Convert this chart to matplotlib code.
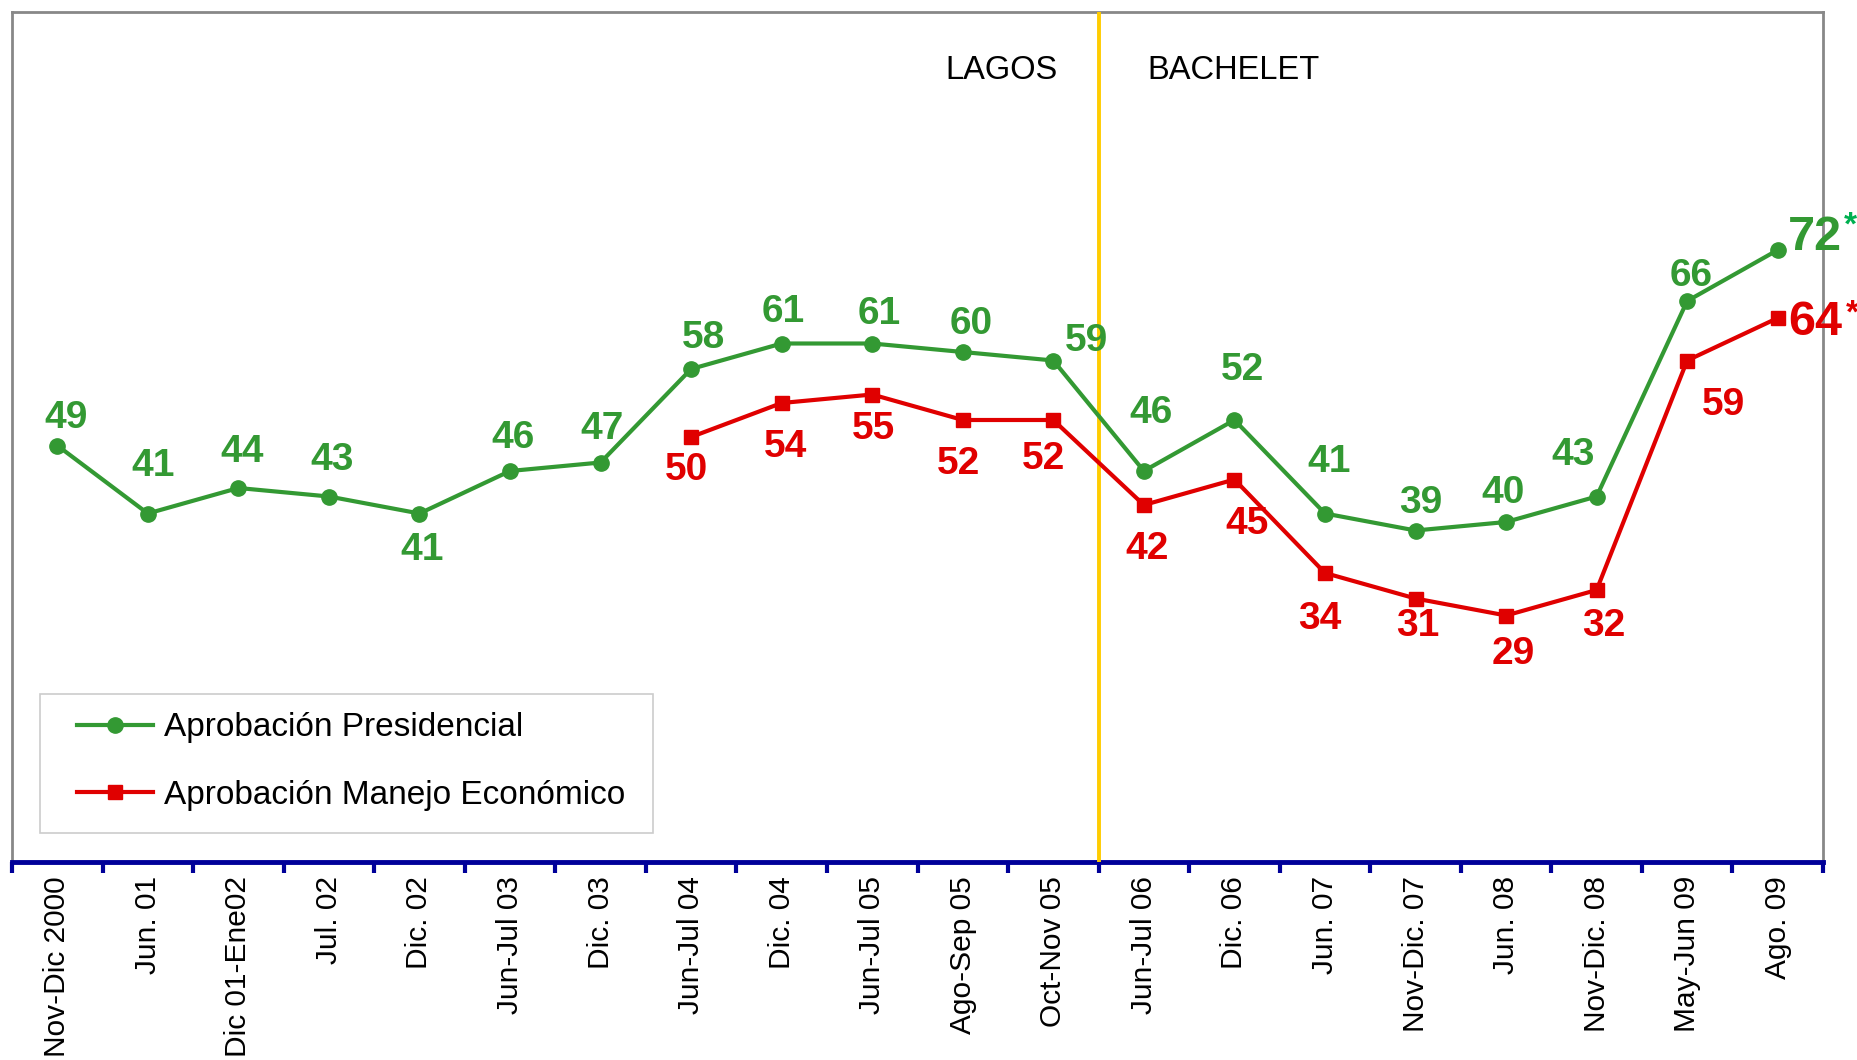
import numpy as np
import matplotlib.pyplot as plt
from matplotlib.patches import Rectangle

plt.rcParams['font.family'] = ['Liberation Sans', 'DejaVu Sans']

periods = ['Nov-Dic 2000', 'Jun. 01', 'Dic 01-Ene02', 'Jul. 02', 'Dic. 02',
           'Jun-Jul 03', 'Dic. 03', 'Jun-Jul 04', 'Dic. 04', 'Jun-Jul 05',
           'Ago-Sep 05', 'Oct-Nov 05', 'Jun-Jul 06', 'Dic. 06', 'Jun. 07',
           'Nov-Dic. 07', 'Jun. 08', 'Nov-Dic. 08', 'May-Jun 09', 'Ago. 09']
presidencial = [49, 41, 44, 43, 41, 46, 47, 58, 61, 61, 60, 59, 46, 52, 41, 39, 40, 43, 66, 72]
economico_start = 7
economico = [50, 54, 55, 52, 52, 42, 45, 34, 31, 29, 32, 59, 64]

GREEN = '#339933'
RED = '#E00000'

# label offsets (points) for each value label
off_p = [(6, 20), (4, 34), (3, 26), (2, 26), (2, -26), (2, 24), (1, 24), (9, 22),
         (1, 23), (5, 21), (6, 20), (24, 14), (5, 42), (6, 36), (3, 37), (4, 20),
         (-2, 21), (-17, 30), (3, 18), (27, 9)]
off_e = [(-3, -24), (3, -32), (1, -25), (-3, -32), (-7, -28), (2, -32), (9, -32),
         (-4, -33), (2, -20), (5, -28), (5, -26), (26, -32), (27, -3)]

fig = plt.figure(figsize=(18.58, 10.60), dpi=100)
ax = fig.add_axes([12/1858, 1 - 862/1060, 1811/1858, 850/1060])

x = np.arange(len(periods))
xe = x[economico_start:]

ax.plot(x, presidencial, color=GREEN, lw=3, marker='o', ms=11, zorder=4,
        label='Aprobación Presidencial')
ax.plot(xe, economico, color=RED, lw=3, marker='s', ms=10.5, zorder=4,
        label='Aprobación Manejo Económico')

for i, v in enumerate(presidencial):
    big = i == len(presidencial) - 1
    ax.annotate(str(v), (x[i], v), xytext=off_p[i], textcoords='offset points',
                ha='center', va='center', color=GREEN, fontweight='bold',
                fontsize=35 if big else 28, zorder=6, annotation_clip=False)
for i, v in enumerate(economico):
    big = i == len(economico) - 1
    ax.annotate(str(v), (xe[i], v), xytext=off_e[i], textcoords='offset points',
                ha='center', va='center', color=RED, fontweight='bold',
                fontsize=35 if big else 28, zorder=6, annotation_clip=False)

ax.annotate('*', (x[-1], presidencial[-1]), xytext=(52, 17), textcoords='offset points',
            ha='center', va='center', color='#00B050', fontweight='bold', fontsize=24,
            annotation_clip=False)
ax.annotate('*', (xe[-1], economico[-1]), xytext=(54, 3), textcoords='offset points',
            ha='center', va='center', color=RED, fontweight='bold', fontsize=24,
            annotation_clip=False)

# government change
ax.axvline(11.5, color='#FFCC00', lw=2.8, zorder=3)
ax.text(10.43, 93.1, 'LAGOS', ha='center', va='center', fontsize=23.5)
ax.text(12.99, 93.1, 'BACHELET', ha='center', va='center', fontsize=23.5)

ax.set_xlim(-0.5, len(periods) - 0.5)
ax.set_ylim(0, 100)
ax.set_yticks([])
ax.set_xticks(x)
ax.set_xticklabels(periods, rotation=90, fontsize=21.5)
ax.set_xticks(np.arange(len(periods) + 1) - 0.5, minor=True)
ax.tick_params(axis='x', which='major', length=0, pad=10)
ax.tick_params(axis='x', which='minor', length=8, width=3, color='#000099', direction='out')

for s in ['top', 'left', 'right']:
    ax.spines[s].set_color('#888888')
    ax.spines[s].set_linewidth(2)
ax.spines['bottom'].set_color('#000099')
ax.spines['bottom'].set_linewidth(3.5)

# legend box drawn separately, legend entries placed inside
ax.add_patch(Rectangle((0.0155, 0.034), 0.3385, 0.164, transform=ax.transAxes,
                       facecolor='white', edgecolor='#cccccc', lw=1.2, zorder=5))
leg = ax.legend(loc='center left', bbox_to_anchor=(0.0359, 0.118), fontsize=24,
                frameon=False, handlelength=2.27, handletextpad=0.33,
                labelspacing=1.1, borderpad=0, borderaxespad=0)
leg.set_zorder(6)

fig.savefig('out.png', dpi=100, facecolor='white')
